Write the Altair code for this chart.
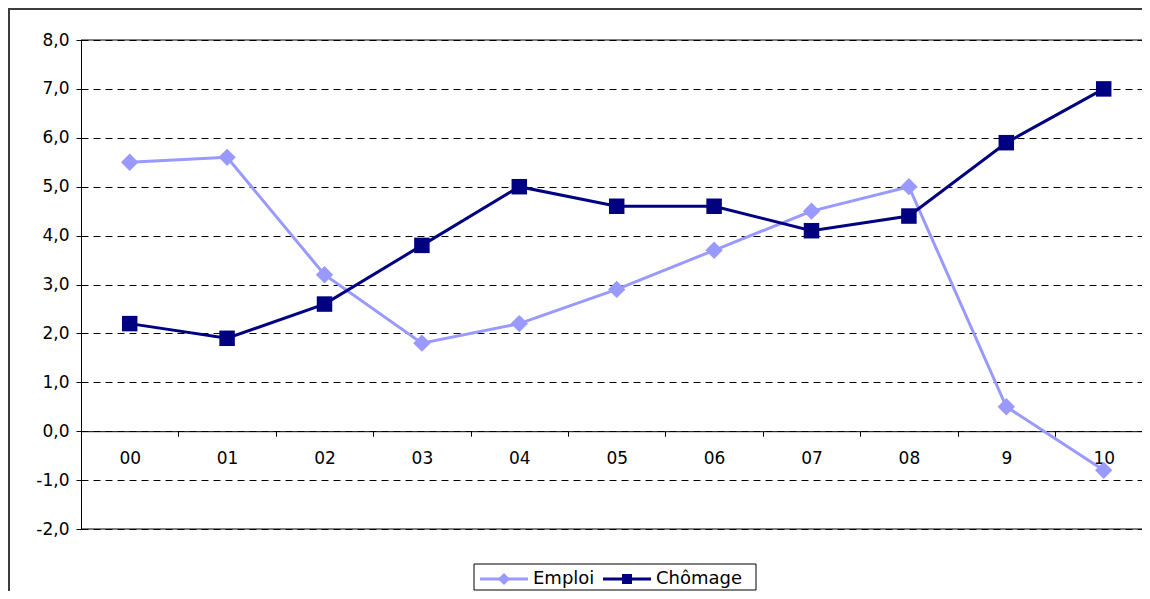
import altair as alt
import pandas as pd

# ---- data ----
years = ["00", "01", "02", "03", "04", "05", "06", "07", "08", "9", "10"]
emploi = [5.5, 5.6, 3.2, 1.8, 2.2, 2.9, 3.7, 4.5, 5.0, 0.5, -0.8]
chomage = [2.2, 1.9, 2.6, 3.8, 5.0, 4.6, 4.6, 4.1, 4.4, 5.9, 7.0]
series = ["Emploi", "Chômage"]
colors = ["#9999FF", "#000080"]
shapes = ["diamond", "square"]
y_ticks = [-2, -1, 0, 1, 2, 3, 4, 5, 6, 7, 8]
y_domain = [-2, 8]
border_values = [-2, 8]

rows = []
for yr, e, c in zip(years, emploi, chomage):
    rows.append({"annee": yr, "serie": series[0], "valeur": e})
    rows.append({"annee": yr, "serie": series[1], "valeur": c})
df = pd.DataFrame(rows)

FONT = "DejaVu Sans"
PX0 = 73  # left padding (plot left edge)
PY0 = 32  # top padding
W, H = 1134 - PX0, 489
TOTAL_H = 583

x_enc = alt.X(
    "annee:N",
    sort=years,
    scale=alt.Scale(type="band", domain=years, range=[0, 1071.4], paddingInner=0, paddingOuter=0),
    axis=alt.Axis(
        title=None,
        orient="bottom",
        offset=-97.8,
        domainColor="black",
        domainWidth=1,
        tickColor="black",
        tickSize=5,
        tickBand="extent",
        labelFont=FONT,
        labelFontSize=17,
        labelColor="black",
        labelPadding=14,
        labelAngle=0,
        grid=False,
    ),
)

y_enc = alt.Y(
    "valeur:Q",
    scale=alt.Scale(domain=y_domain, nice=False, zero=False),
    axis=alt.Axis(
        title=None,
        values=y_ticks,
        labelExpr="(datum.value < 0 ? '-' : '') + replace(format(abs(datum.value), '.1f'), '.', ',')",
        labelFont=FONT,
        labelFontSize=17,
        labelColor="black",
        labelPadding=7,
        tickSize=5,
        tickColor="black",
        domainColor="black",
        grid=True,
        gridColor="black",
        gridDash=[7, 5],
        gridWidth=1,
    ),
)

color_enc = alt.Color("serie:N", scale=alt.Scale(domain=series, range=colors), legend=None)
shape_enc = alt.Shape("serie:N", scale=alt.Scale(domain=series, range=shapes), legend=None)
size_enc = alt.Size("serie:N", scale=alt.Scale(domain=series, range=[300, 240]), legend=None)

# outer chart frame (right and bottom edges fall outside the picture)
frame = alt.Chart(pd.DataFrame({"k": [0]})).mark_rect(
    filled=False, stroke="#3c3c3c", strokeWidth=2
).encode(
    x=alt.value(-(PX0 - 1)), x2=alt.value(W + 10),
    y=alt.value(-(PY0 - 1)), y2=alt.value(TOTAL_H - PY0 + 10)
)

# solid top / bottom borders of plot area
borders = alt.Chart(pd.DataFrame({"valeur": border_values})).mark_rule(
    color="black", strokeWidth=1
).encode(y=y_enc, x=alt.value(0), x2=alt.value(W))

lines = alt.Chart(df).mark_line(strokeWidth=3).encode(
    x=x_enc, y=y_enc, color=color_enc, detail="serie:N",
    order=alt.Order("serie:N")
)
points = alt.Chart(df).mark_point(filled=True, opacity=1).encode(
    x=x_enc, y=y_enc, color=color_enc, shape=shape_enc, size=size_enc
)

# legend (drawn manually to show line + marker)
LY = 539
leg = pd.DataFrame({"k": [0]})
leg_box = alt.Chart(leg).mark_rect(filled=False, stroke="black", strokeWidth=1).encode(
    x=alt.value(393), x2=alt.value(675), y=alt.value(524), y2=alt.value(550)
)
leg_parts = [leg_box]
for name, col, shp, x0, sz, xt in zip(series, colors, shapes, [399, 522], [150, 100], [452, 575]):
    leg_parts.append(
        alt.Chart(leg).mark_rule(color=col, strokeWidth=3).encode(
            x=alt.value(x0), x2=alt.value(x0 + 48), y=alt.value(LY)
        )
    )
    leg_parts.append(
        alt.Chart(leg).mark_point(color=col, filled=True, opacity=1, shape=shp, size=sz).encode(
            x=alt.value(x0 + 24), y=alt.value(LY)
        )
    )
    leg_parts.append(
        alt.Chart(pd.DataFrame({"label": [name]})).mark_text(
            align="left", baseline="middle", font=FONT, fontSize=18, color="black"
        ).encode(x=alt.value(xt), y=alt.value(LY), text="label:N")
    )

chart = alt.layer(frame, borders, lines, points, *leg_parts).properties(
    width=W,
    height=H,
    autosize=alt.AutoSizeParams(type="none"),
    padding={"left": PX0, "top": PY0, "right": 0, "bottom": TOTAL_H - PY0 - H},
    background="white",
).configure_view(stroke=None)

chart.save("out.html", embed_options={"renderer": "svg", "actions": False})
